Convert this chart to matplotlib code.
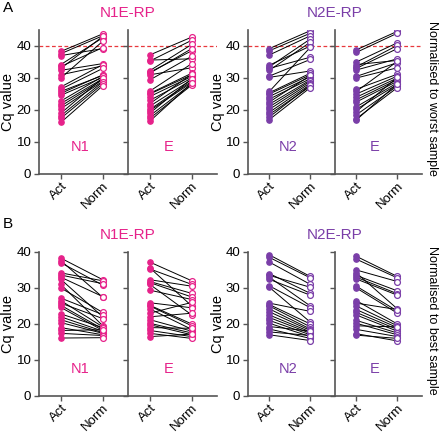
import matplotlib
matplotlib.use('Agg')
import matplotlib.pyplot as plt

plt.rcParams['font.family'] = ['Liberation Sans', 'DejaVu Sans']

pink = '#e6228a'
purple = '#7a3ea8'

x_labels = ['Act', 'Norm']

# N1E-RP, N1 target
n1_act = [38.3, 37.6, 37.0, 34.2, 33.6, 33.0, 32.4, 31.0, 30.0, 27.2, 26.5, 25.8, 25.2, 24.6, 22.8, 22.0, 21.2, 20.4, 19.0, 18.2, 17.4, 16.1]
n1_worst = [43.8, 43.2, 39.2, 42.6, 39.5, 43.0, 34.5, 33.8, 41.5, 34.2, 33.0, 30.8, 31.0, 30.2, 30.5, 29.8, 29.5, 29.0, 30.0, 28.8, 28.2, 27.6]
n1_best = [32.3, 27.4, 30.8, 32.0, 31.2, 27.6, 22.0, 19.5, 23.2, 22.6, 19.2, 21.5, 18.6, 18.2, 19.0, 18.0, 17.6, 17.4, 17.0, 18.4, 16.8, 16.2]

# N1E-RP, E target
e1_act = [37.2, 35.6, 35.3, 32.3, 31.8, 31.5, 31.0, 29.4, 25.9, 25.2, 25.0, 24.2, 23.0, 22.0, 21.2, 20.2, 19.8, 19.0, 18.2, 17.4, 16.5]
e1_worst = [42.8, 36.0, 41.8, 40.5, 38.5, 39.2, 33.2, 36.8, 34.5, 31.5, 31.0, 30.5, 30.0, 31.2, 29.5, 29.0, 28.6, 29.8, 28.2, 27.8, 28.4]
e1_best = [32.0, 25.0, 31.0, 30.5, 28.5, 27.5, 22.5, 26.8, 24.5, 20.0, 19.5, 18.5, 26.0, 23.0, 18.0, 17.5, 17.0, 18.8, 16.5, 16.0, 17.2]

# N2E-RP, N2 target
n2_act = [39.2, 38.5, 37.2, 34.0, 33.5, 33.0, 32.4, 30.6, 30.2, 25.8, 25.4, 25.0, 24.2, 23.4, 22.5, 21.8, 21.0, 20.2, 19.3, 18.6, 17.8, 17.0]
n2_worst = [44.8, 44.0, 43.2, 40.0, 42.2, 36.5, 41.2, 35.8, 32.2, 39.6, 31.5, 31.0, 30.4, 29.8, 30.8, 29.4, 29.0, 28.5, 28.0, 27.4, 27.8, 27.0]
n2_best = [33.2, 32.8, 31.0, 28.5, 30.2, 25.0, 28.0, 24.5, 20.5, 23.5, 20.0, 19.2, 18.6, 18.2, 17.8, 17.4, 17.0, 16.5, 18.0, 16.0, 16.8, 15.4]

# N2E-RP, E target
e2_act = [38.8, 38.0, 35.0, 34.2, 33.5, 33.0, 32.5, 30.5, 30.0, 26.5, 25.8, 25.0, 24.0, 23.2, 22.5, 21.0, 20.2, 19.5, 18.5, 17.3, 16.9]
e2_worst = [44.6, 44.0, 41.0, 35.5, 40.2, 39.2, 36.0, 34.8, 33.2, 31.2, 35.2, 30.6, 30.0, 29.5, 29.0, 28.5, 28.0, 30.2, 27.5, 27.0, 28.2]
e2_best = [33.2, 32.8, 31.8, 24.2, 29.2, 28.4, 28.0, 23.6, 23.0, 20.0, 24.0, 19.5, 19.0, 18.5, 18.0, 17.5, 17.0, 19.2, 16.5, 15.3, 16.0]

W, H = 440, 432
fig = plt.figure(figsize=(W / 100, H / 100), dpi=100)


def px_axes(x0, x1, ytop, ybot):
    return fig.add_axes([x0 / W, 1 - ybot / H, (x1 - x0) / W, (ybot - ytop) / H])


def pair_plot(ax, act, norm, color, label, ymax, first, worst):
    for a, n in zip(act, norm):
        ax.plot([0, 1], [a, n], color='black', lw=0.7, zorder=2)
    ax.plot([0] * len(act), act, 'o', ms=3.8, color=color, mec=color, zorder=3)
    ax.plot([1] * len(norm), norm, 'o', ms=4.2, mfc='white', mec=color, mew=0.9, zorder=3)
    if worst:
        ax.axhline(40, color='#e8383d', ls=(0, (3, 2)), lw=0.9, zorder=1)
    ax.set_xlim(-0.52, 1.6)
    ax.set_ylim(0, ymax)
    ax.set_yticks([0, 10, 20, 30, 40])
    ax.set_xticks([0, 1])
    ax.set_xticklabels(x_labels, rotation=45, ha='right', rotation_mode='anchor', fontsize=8.4)
    for s in ['top', 'right']:
        ax.spines[s].set_visible(False)
    for s in ['left', 'bottom']:
        ax.spines[s].set_color('#555555')
        ax.spines[s].set_linewidth(1.2)
    ax.tick_params(colors='#555555', labelcolor='black', width=1, length=3.5, labelsize=9.5, pad=2)
    ax.tick_params(axis='x', pad=1)
    if first:
        ax.set_ylabel('Cq value', fontsize=10.5)
        ax.yaxis.set_label_coords(-0.27, 0.5)
    else:
        ax.tick_params(axis='y', labelleft=False)
    ax.text(0.45, 0.19, label, color=color, fontsize=10.5, ha='center', va='center',
            transform=ax.get_xaxis_transform())


rows = [(30, 174, 45, True, [n1_worst, e1_worst, n2_worst, e2_worst]),
        (252, 396, 40, False, [n1_best, e1_best, n2_best, e2_best])]
acts = [n1_act, e1_act, n2_act, e2_act]
cols = [(39, 128), (128, 217), (248, 335), (335, 422)]
colors = [pink, pink, purple, purple]
labels = ['N1', 'E', 'N2', 'E']

for ytop, ybot, ymax, worst, norms in rows:
    for i in range(4):
        ax = px_axes(cols[i][0], cols[i][1], ytop, ybot)
        pair_plot(ax, acts[i], norms[i], colors[i], labels[i], ymax, i % 2 == 0, worst)

# titles and side labels
for y in [13, 235]:
    fig.text(128 / W, 1 - y / H, 'N1E-RP', color=pink, fontsize=11, ha='center', va='center')
    fig.text(335 / W, 1 - y / H, 'N2E-RP', color=purple, fontsize=11, ha='center', va='center')
fig.text(3 / W, 1 - 8 / H, 'A', fontsize=11, ha='left', va='center')
fig.text(3 / W, 1 - 224 / H, 'B', fontsize=11, ha='left', va='center')
fig.text(432 / W, 1 - 98 / H, 'Normalised to worst sample', fontsize=9, rotation=-90, ha='center', va='center')
fig.text(432 / W, 1 - 320 / H, 'Normalised to best sample', fontsize=9, rotation=-90, ha='center', va='center')

fig.savefig('out.png', dpi=100)
